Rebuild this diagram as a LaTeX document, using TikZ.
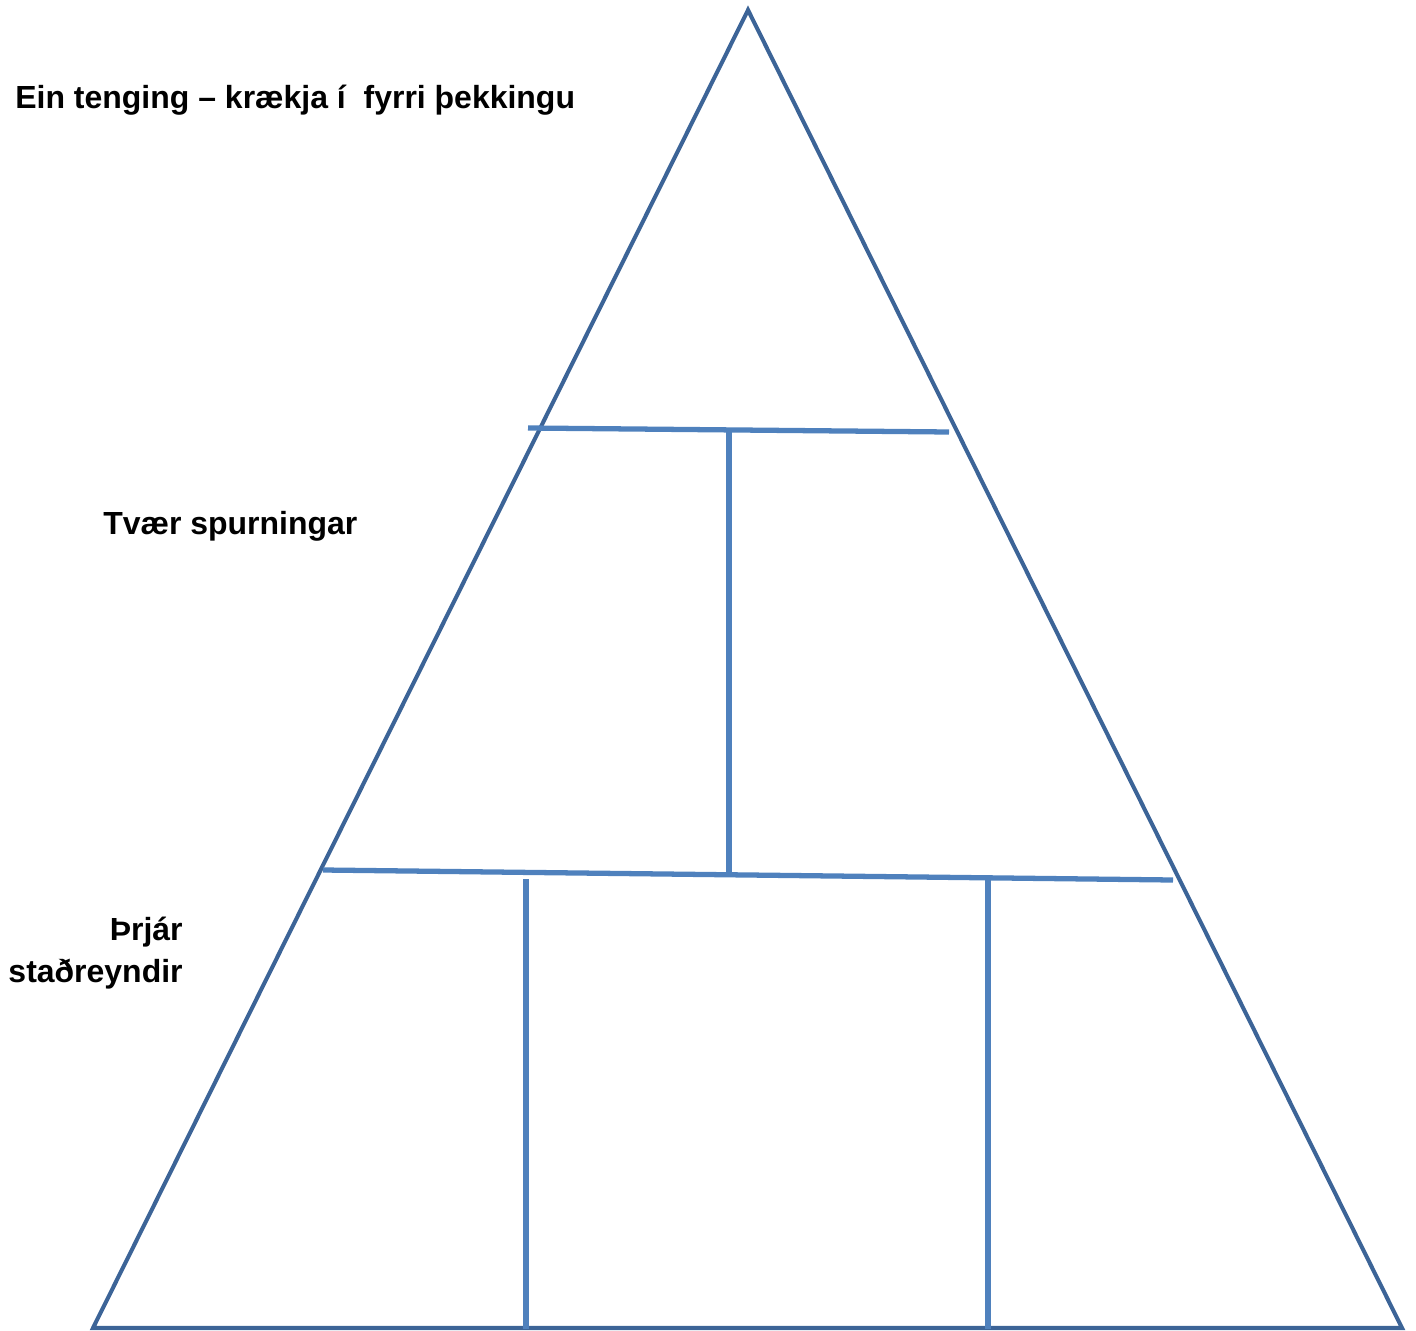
\documentclass[tikz,border=0pt]{standalone}
\usepackage{fontspec}
\setmainfont{Liberation Sans}
\definecolor{tricol}{HTML}{3C6497}
\definecolor{linecol}{HTML}{4F81BD}
\begin{document}
\begin{tikzpicture}[x=0.02cm,y=-0.02cm,
  tri/.style={draw=tricol,line width=2.3pt,line join=miter},
  divider/.style={draw=linecol,line width=3pt},
  lbl/.style={font=\bfseries\fontsize{18.2}{23.8}\selectfont,inner sep=0pt}]
\useasboundingbox (0,0) rectangle (1416,1331);
\coordinate (apex) at (748,10);
\coordinate (bl) at (93,1328);
\coordinate (br) at (1402,1328);
\draw[tri] (apex) -- (br) -- (bl) -- cycle;
% upper divider
\coordinate (u1) at (528,428);
\coordinate (u2) at (949,432);
\coordinate (uv1) at (729,430);
\coordinate (uv2) at (729,877);
\draw[divider] (u1) -- (u2);
\draw[divider] (uv1) -- (uv2);
% lower divider
\coordinate (l1) at (323,870);
\coordinate (l2) at (1173,880);
\draw[divider] (l1) -- (l2);
\coordinate (a1) at (526,879);
\coordinate (a2) at (526,1329);
\coordinate (b1) at (988,878);
\coordinate (b2) at (988,1329);
\draw[divider] (a1) -- (a2);
\draw[divider] (b1) -- (b2);
% labels
\node[lbl,anchor=west] (t1) at (15,100) {Ein tenging – krækja í\ \ fyrri þekkingu};
\node[lbl,anchor=west] (t2) at (103,526) {Tvær spurningar};
\node[lbl,anchor=east,align=right] (t3) at (183,953) {Þrjár\\staðreyndir};
\end{tikzpicture}
\end{document}
